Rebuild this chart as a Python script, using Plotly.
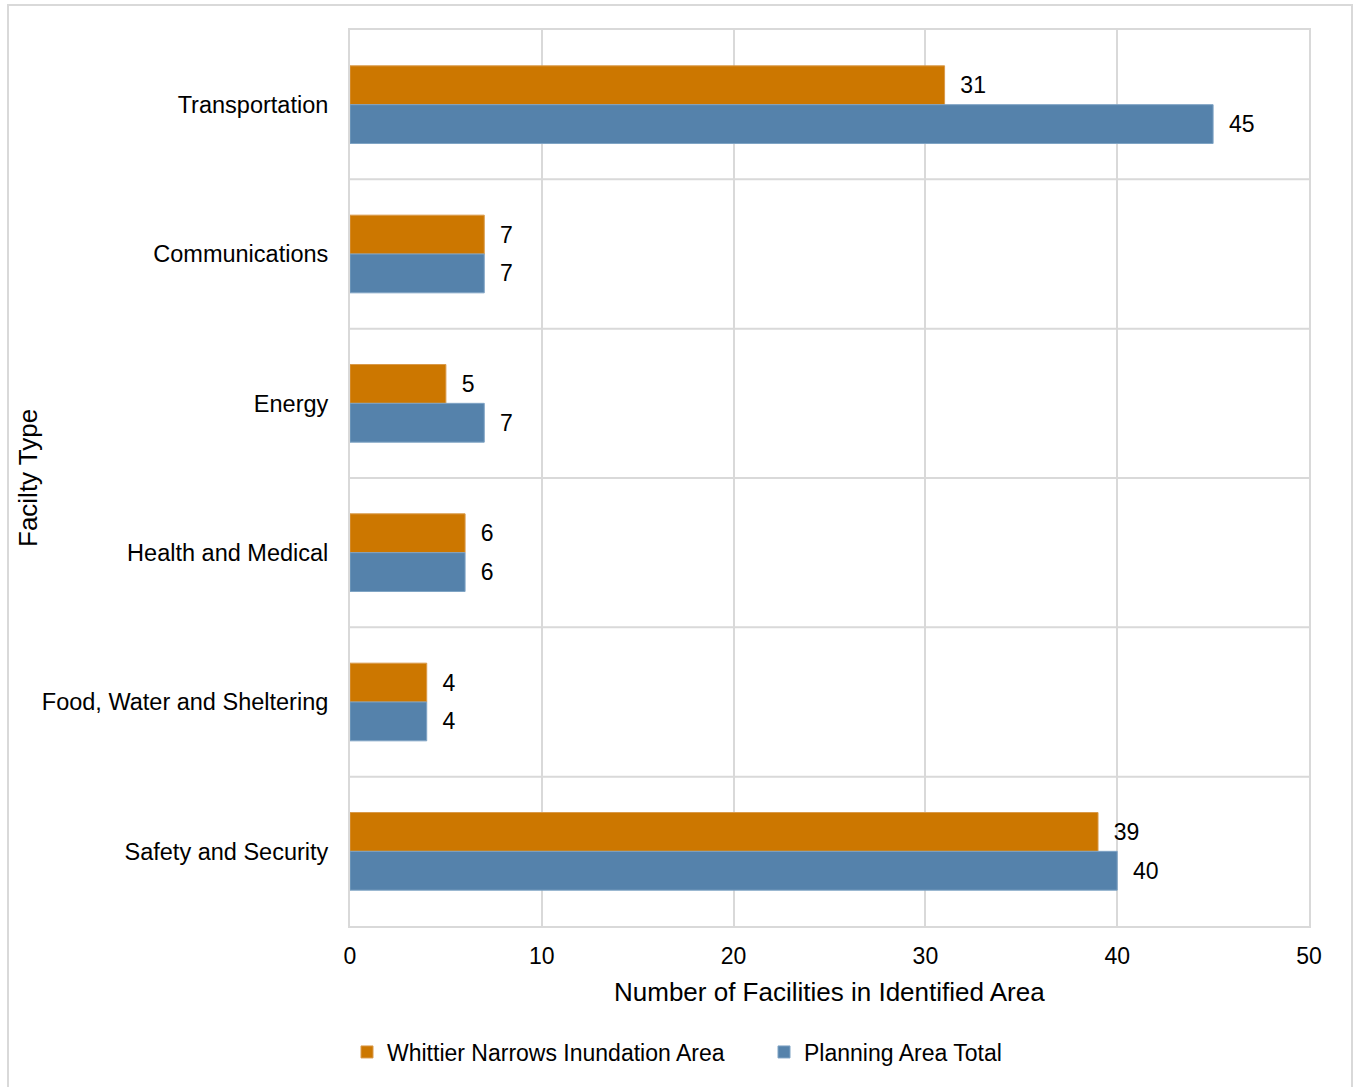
import plotly.graph_objects as go

categories = ["Transportation", "Communications", "Energy", "Health and Medical",
              "Food, Water and Sheltering", "Safety and Security"]
whittier = [31, 7, 5, 6, 4, 39]
planning = [45, 7, 7, 6, 4, 40]
x_ticks = [0, 10, 20, 30, 40, 50]

W, H = 1354, 1087
L, R, T, B = 350, 1309, 30, 926
pw, ph = R - L, B - T

def px_x(x):
    return (x - L) / pw

def px_y(y):
    return (B - y) / ph

font = "Liberation Sans, Arial, sans-serif"
grid = "#D9D9D9"

fig = go.Figure()
fig.add_trace(go.Bar(
    y=categories, x=whittier, orientation="h", name="Whittier Narrows Inundation Area",
    marker=dict(color="#CC7700", line=dict(color="#D99A4A", width=1)),
    text=whittier, texttemplate="  %{x}", textposition="outside",
    textfont=dict(size=23, color="#000000", family=font), cliponaxis=False,
))
fig.add_trace(go.Bar(
    y=categories, x=planning, orientation="h", name="Planning Area Total",
    marker=dict(color="#5582AB", line=dict(color="#7FA3C4", width=1)),
    text=planning, texttemplate="  %{x}", textposition="outside",
    textfont=dict(size=23, color="#000000", family=font), cliponaxis=False,
))

shapes = []
for k in range(len(categories) - 1):
    shapes.append(dict(type="line", xref="paper", yref="y", x0=0, x1=1,
                       y0=k + 0.5, y1=k + 0.5, line=dict(color=grid, width=2), layer="below"))
# outer frame
shapes.append(dict(type="rect", xref="paper", yref="paper",
                   x0=px_x(8), x1=px_x(1352), y0=px_y(1095), y1=px_y(5),
                   line=dict(color=grid, width=2), fillcolor="rgba(0,0,0,0)"))

fig.update_layout(
    width=W, height=H,
    margin=dict(l=L, r=W - R, t=T, b=H - B, autoexpand=False),
    paper_bgcolor="white", plot_bgcolor="white",
    barmode="group", bargap=0.48, bargroupgap=0,
    font=dict(family=font, size=23, color="#000000"),
    showlegend=True,
    legend=dict(orientation="h", xref="container", yref="container",
                x=(361 - 14) / W, xanchor="left", y=1 - 1052 / H, yanchor="middle",
                font=dict(size=23, family=font), traceorder="normal",
                itemwidth=30, entrywidth=372, bgcolor="rgba(0,0,0,0)"),
    xaxis=dict(range=[0, 50], tickvals=x_ticks, showgrid=True, gridcolor=grid, gridwidth=2,
               zeroline=False, showline=True, linecolor=grid, linewidth=2, mirror=True,
               ticks="", ticklabelstandoff=8, tickfont=dict(size=23, family=font), fixedrange=True),
    yaxis=dict(categoryorder="array", categoryarray=categories, autorange="reversed",
               showgrid=False, showline=True, linecolor=grid, linewidth=2, mirror=True,
               ticks="", ticklabelstandoff=15, tickfont=dict(size=23.5, family=font)),
    shapes=shapes,
    annotations=[
        dict(text="Facilty Type", xref="paper", yref="paper", x=px_x(28), y=px_y(478),
             xanchor="center", yanchor="middle", textangle=-90, showarrow=False,
             font=dict(size=26, family=font)),
        dict(text="Number of Facilities in Identified Area", xref="paper", yref="paper",
             x=0.5, y=px_y(992), xanchor="center", yanchor="middle", showarrow=False,
             font=dict(size=26, family=font)),
    ],
)

fig.write_html("out.html")
